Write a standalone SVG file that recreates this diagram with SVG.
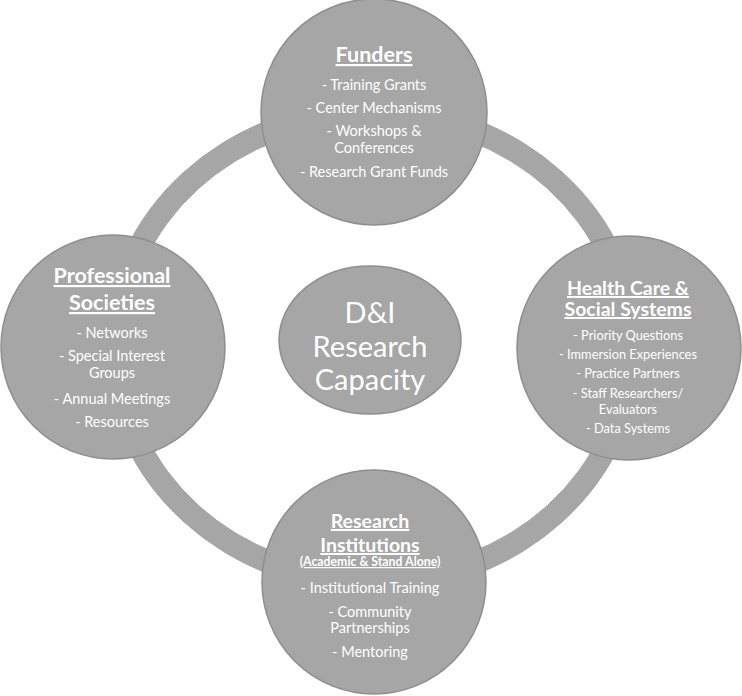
<svg xmlns="http://www.w3.org/2000/svg" width="742" height="696" viewBox="0 0 742 696">
<style>
.node{fill:#a6a6a6;stroke:#8e8e8e;stroke-width:1.5}
.ring{fill:none;stroke:#a6a6a6;stroke-width:22}
.ringedge{fill:none;stroke:#9c9c9c;stroke-width:1}
text{font-family:Lato,"Open Sans","Liberation Sans",sans-serif;fill:#ffffff;text-anchor:middle}
.t{font-weight:bold;font-size:21.5px;text-decoration:underline}
.t2{font-weight:bold;font-size:19.5px;text-decoration:underline}
.sub{font-weight:bold;font-size:12.3px;text-decoration:underline}
.i{font-size:14.5px}
.s{font-size:12.8px}
.c{font-size:29px}
</style>
<rect width="742" height="696" fill="#ffffff"/>
<g id="connectors">
<ellipse class="ringedge" cx="373" cy="347" rx="269" ry="246"/>
<ellipse class="ringedge" cx="373" cy="347" rx="247" ry="224"/>
<ellipse class="ring" cx="373" cy="347" rx="258" ry="235"/>
</g>
<g id="funders">
<circle class="node" cx="374" cy="112" r="113"/>
<text class="t" x="374" y="62">Funders</text>
<text class="i" x="374" y="90">- Training Grants</text>
<text class="i" x="374" y="113">- Center Mechanisms</text>
<text class="i" x="374" y="135.5">- Workshops &amp;</text>
<text class="i" x="374" y="152.5">Conferences</text>
<text class="i" x="374" y="177">- Research Grant Funds</text>
</g>
<g id="professional-societies">
<circle class="node" cx="113" cy="347" r="112"/>
<text class="t" x="112" y="283">Professional</text>
<text class="t" x="112" y="310">Societies</text>
<text class="i" x="112" y="338">- Networks</text>
<text class="i" x="112" y="361">- Special Interest</text>
<text class="i" x="112" y="378">Groups</text>
<text class="i" x="112" y="404">- Annual Meetings</text>
<text class="i" x="112" y="427">- Resources</text>
</g>
<g id="health-care">
<circle class="node" cx="629" cy="348" r="112"/>
<text class="t2" x="628" y="295">Health Care &amp;</text>
<text class="t2" x="628" y="316">Social Systems</text>
<text class="s" x="628" y="340">- Priority Questions</text>
<text class="s" x="628" y="359">- Immersion Experiences</text>
<text class="s" x="628" y="378">- Practice Partners</text>
<text class="s" x="628" y="398">- Staff Researchers/</text>
<text class="s" x="628" y="414">Evaluators</text>
<text class="s" x="628" y="433">- Data Systems</text>
</g>
<g id="research-institutions">
<circle class="node" cx="374" cy="582" r="112"/>
<text class="t2" x="370" y="528">Research</text>
<text class="t2" x="370" y="552">Institutions</text>
<text class="sub" x="370" y="566">(Academic &amp; Stand Alone)</text>
<text class="i" x="370" y="593">- Institutional Training</text>
<text class="i" x="370" y="617">- Community</text>
<text class="i" x="370" y="633">Partnerships</text>
<text class="i" x="370" y="657">- Mentoring</text>
</g>
<g id="center">
<ellipse class="node" cx="370" cy="340" rx="91" ry="74"/>
<text class="c" x="370" y="323">D&amp;I</text>
<text class="c" x="370" y="357">Research</text>
<text class="c" x="370" y="390">Capacity</text>
</g>
</svg>
